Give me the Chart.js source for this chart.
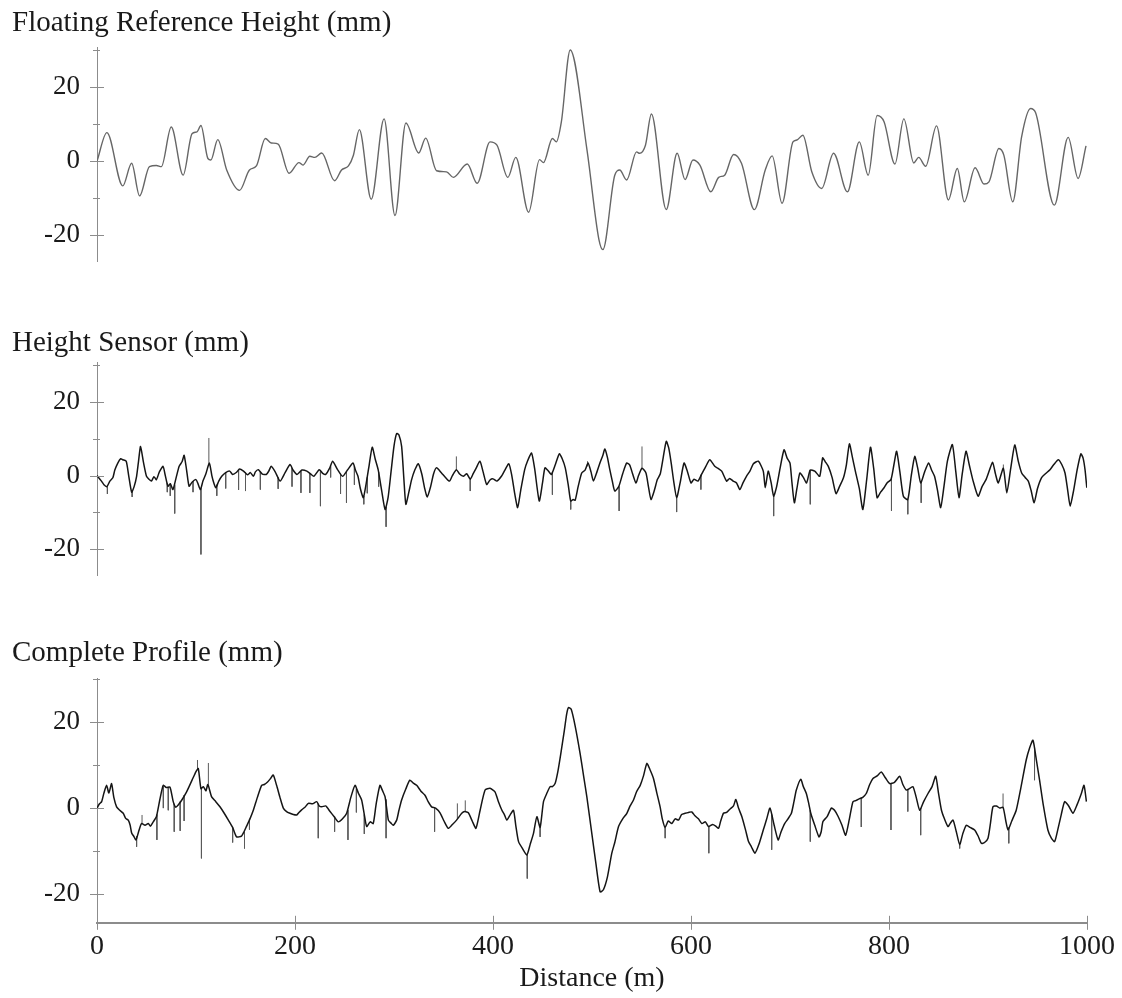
<!DOCTYPE html>
<html>
<head>
<meta charset="utf-8">
<title>Road profile</title>
<script src="https://cdn.jsdelivr.net/npm/chart.js@4/dist/chart.umd.min.js"></script>
<style>
    body { margin: 0; background: #fff; }
    canvas { position: absolute; left: 0; }
</style>
</head>
<body>
<canvas id="refChart" width="1122" height="295" style="top:0px"></canvas>
<canvas id="sensorChart" width="1122" height="294" style="top:315px"></canvas>
<canvas id="profileChart" width="1122" height="367" style="top:631px"></canvas>
<script>
"use strict"

// [distance (m), height (mm)]
const refPoints = [
    [0,0],[10,7.7],[26,-6.7],[35,-0.6],[43,-9.4],[53,-1.5],[60,-1.2],[65,-1.5],[75,9.2],[87,-3.8],
    [96,7.4],[101,7.9],[105,9.6],[112,0.7],[115,0.3],[122,5.8],[131,-2.4],[144,-7.9],[154,-2.4],[161,-1.3],
    [170,6.1],[176,4.9],[183,4.6],[194,-3.3],[204,-0.4],[208,-1.1],[215,1.3],[220,1.0],[227,2.2],[240,-5.3],
    [247,-2.4],[254,-1.3],[259,1.6],[265,8.5],[277,-10.3],[290,11.4],[301,-14.7],[312,10.3],[325,2.2],[332,6.2],
    [343,-2.6],[353,-2.9],[360,-4.4],[374,-0.8],[384,-6.0],[397,5.2],[404,4.3],[415,-4.4],[423,1.0],[436,-13.8],
    [447,0.4],[451,-0.4],[460,6.1],[464,5.2],[469,10.5],[478,30.0],[495,2.9],[507,-21.2],[511,-23.9],[523,-3.8],
    [528,-2.4],[535,-5.1],[545,2.5],[548,2.1],[554,4.3],[560,12.7],[575,-13.1],[586,2.1],[594,-5.0],[602,0.3],
    [609,-1.1],[620,-8.3],[628,-4.4],[634,-3.8],[643,1.8],[651,-0.6],[664,-13.1],[675,-2.4],[682,1.4],[692,-11.4],
    [703,5.2],[707,5.7],[713,7.0],[722,-2.9],[732,-7.4],[744,2.1],[758,-8.3],[770,5.2],[779,-3.8],[788,12.3],
    [795,10.6],[806,-0.8],[815,11.4],[825,-0.5],[830,1.0],[837,-1.4],[848,9.5],[860,-10.5],[869,-2.0],[876,-11.0],
    [887,-1.8],[896,-6.2],[901,-5.6],[911,3.4],[916,1.6],[925,-11.0],[934,6.6],[943,14.2],[948,13.1],[967,-11.9],
    [981,6.4],[991,-4.7],[999,4.1]
];

const sensorPoints = [
    [0,0],[4.5,-1.5],[7,-2.5],[10,-3],[13,-1.5],[16,-0.6],[18,1.5],[21,3.4],[24,4.6],[26,4.3],
    [29.5,3.9],[32,0],[35,-4.5],[37.5,-3],[40,-0.2],[42,4],[44,7.9],[47,3.5],[50,-0.2],[52.5,-1],
    [55,-1.5],[57.5,-0.3],[60,-1.1],[63,1],[66.7,2.5],[69,0],[71.7,-2.9],[74,-2.2],[76.7,-3.8],[80,-0.5],
    [83,2.5],[86,3.8],[88,5.5],[90.5,1.5],[93,-2.9],[96,-1.8],[100,-1.1],[102,-2.2],[104.5,-3.8],[107,-1.5],
    [110,0.5],[113.5,3.4],[116,0],[118,-2],[120,-3.3],[123,-1.5],[126,-0.2],[130,0.8],[134,1.2],[137,0.3],
    [141,0.9],[144,1.8],[148,1.2],[152,0.2],[155,0.8],[158,-0.2],[160,1],[163,1.6],[167,0.4],[171,0.3],
    [173.5,1.2],[176,2.5],[180,1],[185,-1.5],[190,0.8],[195,3],[198,1.5],[202,0.3],[207,1.5],[212,1.2],
    [216,0.4],[219,-0.2],[224.5,1.6],[228,0.6],[231,0.3],[235,2],[238,3.9],[243,1.6],[248,-0.2],[253,1.5],
    [258.6,3.4],[261,1.5],[263.6,-0.2],[266,-3.5],[269,-6],[272,-2],[275,3],[278,7.7],[281,4.5],[284,1.6],
    [287.5,-4],[291,-9.2],[294,-6],[297,1],[300,8],[302.7,11.4],[305,11],[307.7,7.9],[310,-1],[312,-7.8],
    [315,-4.5],[317.8,-1.1],[321,1.5],[324.5,3.2],[328,0.5],[331,-3.5],[333.6,-5.8],[337,-3],[340,0.5],[343,2.1],
    [348,0.7],[352,-0.5],[356,-1.5],[359,0],[363,1.6],[366,0.5],[370,-0.2],[373.5,0.5],[377,-1],[380,0.5],
    [383,2],[386.8,3.9],[390,1],[393.6,-2.4],[397,-1.2],[400,-0.9],[404,-1.5],[408.5,-0.2],[412,1.5],[416,3.2],
    [419,0],[422,-5],[424.9,-8.7],[428,-4],[432,1.6],[435,4],[438.9,6.1],[442,2],[446.7,-6.9],[450,-2],
    [452.5,2.1],[456,1.2],[459,0.3],[463,3],[467,5.9],[470,4.5],[473,2.1],[476,-2.5],[478.5,-6.9],[481,-6.5],
    [483,-6.7],[486,-3],[489.6,0.7],[493,1.5],[496,3.4],[499,1],[501.4,-1.5],[505,1],[508,3.4],[511,5.5],
    [513,7.2],[515.5,5],[518,1.6],[520.5,-1.5],[523,-4.2],[527,-3],[531,0.5],[535,3.4],[538,2.9],[541,0.5],
    [544.4,-2],[547,0],[550.5,2],[554.5,0.7],[557,-3],[559.6,-6.5],[563,-4],[566,-1.1],[569,0.5],[572,5],
    [575,9.3],[577.5,7.5],[580,3.4],[582.5,-1.5],[585.5,-6],[589,-2],[593,3.4],[596.5,1],[600,-2],[603,-1],
    [607,-1.5],[611,0.5],[615,2.5],[619,4.3],[624,2.5],[627,2],[631,1.2],[636,-1.5],[639,-0.8],[642.6,-1.5],
    [646,-2],[649.4,-3.8],[652.5,-2],[656,-0.2],[659.5,1.2],[663,3.2],[668,3.9],[673,1.2],[675,-3.3],[678,1.2],
    [681,-2],[683.5,-5.6],[686.5,-3],[690,2],[694,7],[697,4.8],[700,3.4],[702,-2],[704.4,-7.4],[707,-3.5],
    [710,0.7],[713.5,-0.5],[716.7,-2],[720.5,1.5],[725,1.2],[730,-0.2],[733,4.8],[735.5,3.8],[738.7,2.5],[742.5,-0.5],
    [746.5,-4.9],[750,-3],[754,-0.6],[757,3],[760,8.6],[763,5],[766,1.2],[770,-3.5],[773.6,-9.2],[777.5,-1],
    [781.3,7.7],[784.5,2],[788,-6],[791.5,-4.5],[795,-3.3],[798,-2],[802,-1.1],[805,3],[807.7,6.6],[811,1],
    [814.5,-5.6],[819,-6.5],[822.5,0],[826,5.2],[829,2],[832,-2],[836,1],[840,3.4],[843,1.5],[846,-0.2],
    [849,-4],[852.2,-8.7],[855.5,-3],[859,3.9],[864,8.4],[867.5,1],[870.7,-6],[874,0.5],[877.8,6.6],[881,3],
    [885,-1.5],[890,-5.6],[894,-3],[898,-1.1],[901.5,1.5],[904.7,3.6],[907.5,0.5],[910.4,-2],[915.5,2],[919,-4.7],
    [923,2],[927,8.3],[930.5,4],[934,0.7],[937.5,-0.5],[940.7,-1.5],[943.5,-4],[946.6,-7.4],[950,-3.5],[954,-0.6],
    [958,0.5],[962.6,1.6],[966.5,3],[971,4.3],[974.5,3],[977.8,0.7],[980.5,-4],[983,-8.3],[986.5,-4],[990,1.5],
    [993.8,5.9],[996,4.8],[998,1.6],[999.8,-3.3]
];

// single-sample dropouts: [distance, from, to]
const sensorSpikes = [
    [10.5,-3,-5],[35.5,-4,-5.8],[71,-2,-4.5],[74,-2.2,-5.5],[78.5,-2.5,-10.3],[97,-1.5,-4.5],[105,-3.5,-21.4],[113,3,10.2],
    [121,-2.5,-5.5],[130,0.8,-3.5],[143,1.5,-3.9],[150,0.8,-4.2],[165,1,-3.8],[183,-0.5,-3.6],[197,2,-3],[206,1.2,-4.7],
    [215,0.6,-4.7],[225.7,1.2,-8.3],[236,2.5,-0.5],[246,0.5,-5],[252,1.2,-7.4],[260,2.5,-2.5],[269.5,-5.5,-7.8],[273,-0.5,-4.8],
    [284.5,1,-3],[292,-8.5,-13.9],[363,1.5,5.2],[377,-1,-4.2],[460,1,-5.2],[478.5,-6.9,-9.2],[495.5,2.5,3.9],[527.4,-3,-9.6],
    [550.5,2,7.9],[585.5,-6,-9.9],[610,0.2,-3.8],[683.5,-5.6,-11],[720.5,1.5,-7.8],[802.5,-0.5,-9.6],[819,-6.5,-10.5],[832.5,-1.5,-7.4],
    [915.5,2,3]
];

const profilePoints = [
    [0,0],[2.5,1],[4.7,1.5],[7,3.5],[9.7,5.3],[12,3.5],[14.7,5.7],[17,2.5],[19.8,0.3],[23,-0.5],
    [26.5,-1.2],[29,-2.4],[31.6,-2.8],[33.5,-4],[35,-5.8],[37,-6.5],[39.4,-7.4],[42,-5.5],[45,-3.6],[48.5,-4],
    [51.8,-3.6],[54,-4.2],[56.8,-3.2],[60,-2],[63.5,2],[66.9,5.3],[70,4.8],[73.7,4.9],[77,1.5],[79.5,0.2],
    [82,0.7],[86,2],[90.5,3.8],[93,5],[96,6.5],[100,8.5],[102.3,9.2],[105,4.5],[107.4,5],[110,4],
    [112,5.5],[115.8,2.6],[120,1.5],[124.2,0.3],[128.5,-1.2],[132.7,-2.8],[137,-4.5],[141,-6.7],[146,-6.5],[148.5,-5.5],
    [151.1,-4.2],[154.5,-2.5],[157.9,-0.5],[162,2.5],[166.3,5.3],[169,5.5],[172,6],[175,6.8],[178,7.7],[181.4,5.3],
    [184.8,2.5],[188.2,0],[191.5,-0.8],[194.9,-1.2],[198.3,-1.5],[201.7,-1.6],[204,-1],[206.7,-0.4],[210,0.2],[213.5,1.1],
    [217.7,1],[221.9,1.5],[224.5,0.5],[227,0.3],[231,0.5],[235.4,-0.8],[239.6,-2],[243.8,-3.2],[248,-2.5],[252.2,-1.2],
    [256.4,2.5],[260.6,5.3],[264,3.5],[267.3,1.9],[270,-1.5],[272.4,-4.3],[276,-3.2],[279,-3.6],[282,1],[285.8,5.3],
    [288.5,4],[291,2.6],[294.3,-2.8],[297,-3.5],[299.3,-4],[302.7,-2.8],[305,-0.5],[307.7,1.9],[312,4.5],[316,6.5],
    [319.5,5.8],[322.9,5.3],[327,4],[331.3,3],[334.5,1.5],[338,0.3],[342,0],[346.5,-1.1],[350.5,-3],[354.8,-4.7],
    [359,-3.8],[363.2,-2.8],[368.4,-1.2],[371.5,-0.8],[375.1,-1.1],[379,-3],[382.8,-4.7],[387,-0.5],[392,4.2],[397,4.6],
    [402,3.8],[405.5,1.5],[409,-0.5],[411.5,-1.5],[414,-2.8],[417.5,-1.5],[420.7,-0.5],[423,-4],[425.8,-7.8],[430,-9.5],
    [434.2,-10.9],[437.5,-8.5],[440.9,-5.9],[444.3,-2],[447.6,-4.5],[451,1.5],[454.5,3.5],[457.7,5],[460,5],[462.7,5.7],
    [465.5,8.5],[468.5,12.7],[472,18],[474.5,22],[476.3,23.4],[479,23],[483,19.1],[488,12.7],[491.5,7.5],[494.8,2.6],
    [499.8,-5.9],[504,-13],[508.2,-19.5],[511.5,-19],[515.6,-16],[520,-10.5],[523,-8],[526.8,-4.3],[531,-2.5],[535.2,-1.2],
    [538.5,0.5],[541.9,1.9],[545,3.8],[548.7,5.3],[552,7.5],[555.4,10.4],[558.5,9],[562.1,6.9],[565.5,3.5],[568.8,0.3],
    [571,-2.5],[573.9,-4.5],[577,-3],[580.6,-3.6],[584,-2.5],[587.4,-2.8],[590.5,-1.5],[594.1,-1.2],[597.5,-1],[600.8,-0.9],
    [604,-1.8],[607.5,-2.5],[611,-3.6],[614.5,-3.2],[617.7,-4.3],[622,-3.8],[625,-4.2],[627.8,-4.7],[630,-3],[632.8,-1.2],
    [636,-1],[639.5,-0.2],[642.9,0.5],[645.3,2],[648,0],[651.4,-2],[655,-5],[658.1,-7.8],[661,-9],[664.6,-10.5],
    [668.5,-8.5],[673,-5.1],[676.5,-2.5],[679.8,0],[684,-4],[688,-7.4],[691,-5.5],[694.6,-3.6],[698,-2.5],[701.4,-1.2],
    [704,1.5],[706.4,4.2],[710.8,6.7],[713.5,5],[716.5,3.4],[719,1],[721,-1.2],[725,-4],[729.3,-6.7],[731.5,-5.5],
    [733.3,-3.1],[737.5,-2],[741.8,0],[745,-0.5],[748.5,-1.9],[752.5,-4],[756.2,-6.3],[760,-2.5],[763.6,1.5],[767,1.8],
    [770.4,2.2],[773.5,2.5],[777,3.4],[780.5,5.5],[783.8,6.9],[788,7.5],[792.2,8.4],[796.5,7],[800.7,5.7],[805.5,6],
    [810.8,7.4],[814,5.5],[817.5,4.2],[821,4.6],[824.2,5],[827.5,2.5],[831,-0.5],[835,1.5],[839.4,3.4],[843.5,5],
    [847.2,7.4],[850,3.5],[853,-0.5],[856,-2.5],[859.6,-4.3],[862,-3.5],[864.7,-2.8],[868,-5.5],[871.4,-8.5],[874.5,-6],
    [878.1,-4],[882,-4.5],[886.5,-5.1],[890,-6.5],[893.3,-8.2],[896.5,-8],[900,-7],[902.5,-3.5],[905,0.3],[908.5,0.5],
    [911.8,0],[915.2,0.2],[918,-3],[920.2,-5.1],[924,-3],[928.5,-0.5],[933,4.5],[938.6,11.2],[942,14],[945.4,15.8],
    [949,11],[952.1,6.5],[956,0.5],[960.5,-5.1],[964,-7],[967.3,-7.8],[970.5,-5],[974,-1.5],[977.4,1.5],[981.5,0.5],
    [985.8,-1.2],[990,0.8],[994.3,3.4],[997,5.3],[999.4,1.5]
];

const profileSpikes = [
    [40,-6.5,-9],[45.5,-3.6,-1.6],[60.5,-1.5,-7.4],[67,5,0],[72,4.8,-0.5],[78,1,-5.5],[84,1.5,-5.3],[88,3,-3],
    [101.5,9,11.2],[105.5,4.5,-11.7],[112.5,5.5,10.5],[137,-4.5,-8],[149,-5.5,-9.4],[154,-2.5,-5],[223.5,1,-7],[240,-2,-5.5],
    [253.5,-0.5,-7.4],[262,4.5,-1],[270,-1.5,-6],[292,2,-7],[341,0,-5.5],[364,-2.5,1.1],[372,-0.8,1.8],[434.6,-10.9,-16.4],
    [447.6,-4.5,-6.7],[573.9,-4.5,-7],[618,-4.2,-10.5],[681.5,-1.5,-9.7],[720.5,-0.5,-7.8],[772,2.4,-4.4],[802,5.8,-5.1],[819,4.4,-0.8],
    [832,0,-6.3],[871.4,-8.5,-9.4],[915.2,0.2,3.4],[921,-4.5,-8.2],[947,14,6.5]
];

const panelTitles = ["Floating Reference Height (mm)", "Height Sensor (mm)", "Complete Profile (mm)"];
const xTitle = "Distance (m)";
const yTickValues = [-20, -10, 0, 10, 20, 30];
const xTickValues = [0, 200, 400, 600, 800, 1000];

const serif = "'Liberation Serif', 'Times New Roman', serif";
const textColor = "#1a1a1a";
const axisColor = "#8c8c8c";

// crossing tick marks: long ones at the labelled values, short ones between
const tickMarks = {
    id: "tickMarks",
    afterDraw(chart) {
        const ctx = chart.ctx;
        const ys = chart.scales.y;
        const xs = chart.scales.x;
        ctx.save();
        ctx.strokeStyle = axisColor;
        ctx.lineWidth = 1;
        ys.ticks.forEach(t => {
            const py = Math.round(ys.getPixelForValue(t.value)) + 0.5;
            const major = t.value % 20 === 0;
            ctx.beginPath();
            ctx.moveTo(ys.right - (major ? 7 : 4), py);
            ctx.lineTo(ys.right + (major ? 7 : 3), py);
            ctx.stroke();
        });
        if (xs.options.display) {
            xs.ticks.forEach(t => {
                const px = Math.round(xs.getPixelForValue(t.value)) + 0.5;
                ctx.beginPath();
                ctx.moveTo(px, xs.top - 7);
                ctx.lineTo(px, xs.top + 7);
                ctx.stroke();
            });
        }
        ctx.restore();
    }
};

// spikes become separate little vertical strokes, broken apart by nulls
function spikeData(spikes) {
    const out = [];
    spikes.forEach(s => {
        out.push({ x: s[0], y: s[1] }, { x: s[0], y: s[2] }, { x: s[0], y: null });
    });
    return out;
}

function makePanel(id, title, points, spikes, o) {
    const datasets = [{
        data: points.map(p => ({ x: p[0], y: p[1] })),
        borderColor: o.color,
        borderWidth: o.width,
        pointRadius: 0,
        fill: false,
        tension: o.tension,
        cubicInterpolationMode: o.mode
    }];
    if (spikes) {
        datasets.push({
            data: spikeData(spikes),
            borderColor: "#5a5a5a",
            borderWidth: 1,
            pointRadius: 0,
            fill: false,
            spanGaps: false,
            tension: 0
        });
    }

    return new Chart(document.getElementById(id), {
        type: "line",
        data: { datasets: datasets },
        options: {
            responsive: false,
            animation: false,
            events: [],
            layout: { padding: { left: 12, right: 35, top: 0, bottom: 0 } },
            plugins: {
                legend: { display: false },
                tooltip: { enabled: false },
                title: {
                    display: true,
                    text: title,
                    align: "start",
                    color: textColor,
                    font: { family: serif, size: 29, weight: "normal" },
                    padding: o.titlePad
                }
            },
            scales: {
                x: {
                    type: "linear",
                    min: 0,
                    max: 1000,
                    display: o.showX,
                    grid: { display: false, drawTicks: false },
                    border: { display: true, color: axisColor, width: 2 },
                    afterBuildTicks: s => { s.ticks = xTickValues.map(v => ({ value: v })); },
                    ticks: {
                        padding: 7,
                        color: textColor,
                        font: { family: serif, size: 28 },
                        maxRotation: 0,
                        callback: v => String(v)
                    },
                    title: {
                        display: true,
                        text: xTitle,
                        color: textColor,
                        font: { family: serif, size: 28 },
                        padding: { top: -9, bottom: 3 }
                    }
                },
                y: {
                    type: "linear",
                    min: o.yMin,
                    max: o.yMax,
                    grid: { display: false, drawTicks: false },
                    border: { display: true, color: axisColor, width: 1 },
                    afterBuildTicks: s => { s.ticks = yTickValues.map(v => ({ value: v })); },
                    afterFit: s => { s.width = 85; },
                    ticks: {
                        padding: 17,
                        color: textColor,
                        font: { family: serif, size: 27 },
                        callback: v => (v % 20 === 0 ? String(v) : "")
                    }
                }
            }
        },
        plugins: [tickMarks]
    });
}

makePanel("refChart", panelTitles[0], refPoints, null, {
    color: "#666666", width: 1.4, tension: 0.4, mode: "monotone", showX: false,
    yMin: -27.2, yMax: 30.6, titlePad: { top: 6, bottom: 7 }
});

makePanel("sensorChart", panelTitles[1], sensorPoints, sensorSpikes, {
    color: "#151515", width: 1.5, tension: 0.2, mode: "default", showX: false,
    yMin: -27.2, yMax: 30.6, titlePad: { top: 11, bottom: 2 }
});

makePanel("profileChart", panelTitles[2], profilePoints, profileSpikes, {
    color: "#151515", width: 1.5, tension: 0.2, mode: "default", showX: true,
    yMin: -26.7, yMax: 30.1, titlePad: { top: 5, bottom: 8 }
});
</script>
</body>
</html>
